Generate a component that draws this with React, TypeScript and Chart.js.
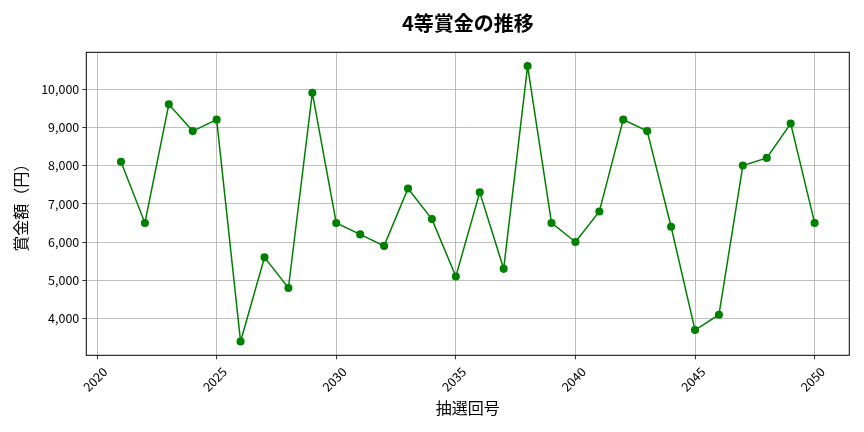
import Chart from 'chart.js/auto';
import { useEffect, useRef } from 'react';

// 抽選回号 and 4等賞金 (yen)
const draws = [
  2021, 2022, 2023, 2024, 2025, 2026, 2027, 2028, 2029, 2030,
  2031, 2032, 2033, 2034, 2035, 2036, 2037, 2038, 2039, 2040,
  2041, 2042, 2043, 2044, 2045, 2046, 2047, 2048, 2049, 2050,
];
const prizes = [
  8100, 6500, 9600, 8900, 9200, 3400, 5600, 4800, 9900, 6500,
  6200, 5900, 7400, 6600, 5100, 7300, 5300, 10600, 6500, 6000,
  6800, 9200, 8900, 6400, 3700, 4100, 8000, 8200, 9100, 6500,
];
const xTicks = [2020, 2025, 2030, 2035, 2040, 2045, 2050];
const yTicks = [4000, 5000, 6000, 7000, 8000, 9000, 10000];

const FONT = '"Noto Sans CJK JP", "Noto Sans", sans-serif';

// matplotlib-style axes frame
const framePlugin = {
  id: 'frame',
  afterDraw(chart: Chart) {
    const { ctx, chartArea } = chart;
    ctx.save();
    ctx.strokeStyle = '#000';
    ctx.lineWidth = 1;
    ctx.strokeRect(chartArea.left, chartArea.top, chartArea.right - chartArea.left, chartArea.bottom - chartArea.top);
    ctx.restore();
  },
};

export default function App() {
  const chartRef = useRef<HTMLCanvasElement>(null);
  const chartInstanceRef = useRef<Chart | null>(null);

  useEffect(() => {
    document.body.style.margin = '0';
    if (!chartRef.current) return;
    chartInstanceRef.current?.destroy();

    // 5% margins like matplotlib
    const xPad = (draws[draws.length - 1] - draws[0]) * 0.05;
    const yMin = Math.min(...prizes);
    const yMax = Math.max(...prizes);
    const yPad = (yMax - yMin) * 0.05;

    chartInstanceRef.current = new Chart(chartRef.current, {
      type: 'line',
      data: {
        datasets: [
          {
            label: '4等賞金',
            data: draws.map((d, i) => ({ x: d, y: prizes[i] })),
            borderColor: '#008000',
            backgroundColor: '#008000',
            borderWidth: 1.5,
            pointRadius: 3.3,
            pointBackgroundColor: '#008000',
            pointBorderColor: '#008000',
            tension: 0,
          },
        ],
      },
      options: {
        animation: false,
        responsive: true,
        maintainAspectRatio: false,
        layout: { padding: { left: 0, right: 14.7, top: 0, bottom: 0 } },
        plugins: {
          legend: { display: false },
          tooltip: { enabled: false },
          title: {
            display: true,
            text: '4等賞金の推移',
            fullSize: false,
            color: '#000',
            font: { family: FONT, size: 20, weight: 'bold' },
            padding: { top: 11, bottom: 17.3 },
          },
        },
        scales: {
          x: {
            type: 'linear',
            min: draws[0] - xPad,
            max: draws[draws.length - 1] + xPad,
            afterBuildTicks: (scale: any) => {
              scale.ticks = xTicks.map((v) => ({ value: v }));
            },
            afterFit: (scale: any) => {
              scale.height = 76.7;
            },
            border: { display: false },
            grid: { color: '#b0b0b0', lineWidth: 0.8, tickLength: 4, tickColor: '#000', tickWidth: 0.8 },
            ticks: {
              autoSkip: false,
              minRotation: 45,
              maxRotation: 45,
              labelOffset: 8,
              padding: 5,
              color: '#000',
              font: { family: FONT, size: 12.5 },
              callback: (v: any) => String(v),
            },
            title: {
              display: true,
              text: '抽選回号',
              color: '#000',
              font: { family: FONT, size: 16 },
              padding: { top: 0, bottom: 14.9 },
            },
          },
          y: {
            type: 'linear',
            min: yMin - yPad,
            max: yMax + yPad,
            afterBuildTicks: (scale: any) => {
              scale.ticks = yTicks.map((v) => ({ value: v }));
            },
            afterFit: (scale: any) => {
              scale.width = 86.3;
            },
            border: { display: false },
            grid: { color: '#b0b0b0', lineWidth: 0.8, tickLength: 4, tickColor: '#000', tickWidth: 0.8 },
            ticks: {
              padding: 3,
              color: '#000',
              font: { family: FONT, size: 12.5 },
              callback: (v: any) => Number(v).toLocaleString('en-US'),
            },
            title: {
              display: true,
              text: '賞金額（円）',
              color: '#000',
              font: { family: FONT, size: 16 },
              padding: { top: 11.4, bottom: 0 },
            },
          },
        },
      },
      plugins: [framePlugin],
    });

    return () => {
      chartInstanceRef.current?.destroy();
      chartInstanceRef.current = null;
    };
  }, []);

  return (
    <div style={{ position: 'relative', width: 864, height: 432 }}>
      <canvas ref={chartRef} />
    </div>
  );
}
